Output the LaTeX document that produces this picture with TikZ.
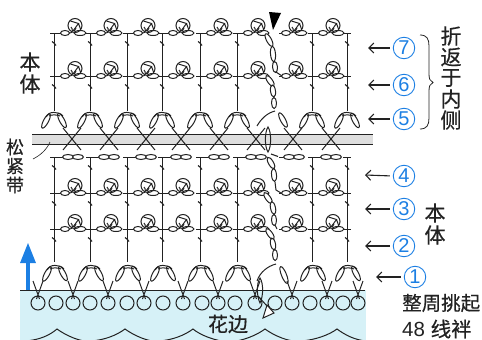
\documentclass[tikz,border=0pt]{standalone}
\usepackage{fontspec}
\usetikzlibrary{arrows.meta}
\setmainfont{Liberation Sans}
\newfontfamily\cjk[FakeBold=0.5]{Noto Sans CJK SC}
\definecolor{ink}{HTML}{222222}
\definecolor{numblue}{HTML}{1C7FE3}
\definecolor{pale}{HTML}{D6F1F7}
\newcommand{\ovl}[4]{\draw[knit,shift={(#1,#2)},rotate=#3] (0,0) ellipse (#4pt and 2.5pt);}
\newcommand{\ovf}[4]{\draw[knit,fill=white,shift={(#1,#2)},rotate=#3] (0,0) ellipse (#4pt and 2.5pt);}
\newcommand{\archtop}[2]{%
  \draw[knit] (#1-8,#2+6) .. controls (#1-6,#2) and (#1+5,#2) .. (#1+9,#2+5);
  \draw[knit] (#1-5,#2+5) .. controls (#1-3,#2+3.5) and (#1+3,#2+3.5) .. (#1+6,#2+5);
  \ovl{#1-8}{#2+10}{62}{8}
  \ovl{#1+8}{#2+9.5}{-62}{8}}
\newcommand{\postrow}[3]{%
  \draw[knit] (#1,#2) -- (#1,#3);
  \draw[knit] (#1-4,#2) -- (#1+4,#2);
  \draw[slash] (#1-2,#2+8.5) -- (#1,#2+10) (#1,#2+10) -- (#1+2,#2+12.5);}
\newcommand{\flower}[2]{%
  \draw[knit] (#1+4,#2) -- (#1+7,#2);
  \ovf{#1+11}{#2}{0}{4.5}
  \ovf{#1+26}{#2}{0}{6}
  \draw[knit] (#1+16,#2) .. controls (#1+19,#2) and (#1+19,#2-4) .. (#1+17,#2-6);
  \draw[knit] (#1+22,#2) .. controls (#1+20,#2-2) and (#1+20,#2-3) .. (#1+22,#2-5);
  \draw[knit] (#1+21,#2-7.5) circle (7pt);
  \draw[knit] (#1+16.5,#2-12) -- (#1+24.5,#2-9.5) -- (#1+19,#2-2) (#1+24.5,#2-9.5) -- (#1+26.5,#2-4);}
\newcommand{\plainchain}[2]{%
  \draw[knit] (#1+4,#2) -- (#1+9,#2);
  \ovf{#1+14}{#2}{0}{5.5}
  \ovf{#1+24}{#2}{0}{5.5}}
\tikzset{
  knit/.style={draw=ink,line width=1pt},
  slash/.style={draw=ink,line width=1.1pt},
  hanzi/.style={font=\cjk,text=ink,inner sep=0pt},
  numc/.style={circle,draw=numblue,line width=0.9pt,text=numblue,font=\fontsize{20}{20}\selectfont,inner sep=0pt,minimum size=21.5pt},
  barb/.style={draw=ink,line width=1.1pt,-{Straight Barb[length=5pt,width=10pt]},shorten <=3pt},
}
\begin{document}
\begin{tikzpicture}[x=1pt,y=-1pt]
\useasboundingbox (0,0) rectangle (482,340);
% pale edging
\fill[pale] (20,290) rectangle (366,340);
% scallops
\draw[knit,line width=1pt] (25,341) .. controls (40,340) and (50,335) .. (57,329)
  .. controls (65,335) and (82,343) .. (91,341) .. controls (105,340) and (117,335) .. (125,329)
  .. controls (133,335) and (150,343) .. (159,341) .. controls (173,340) and (185,335) .. (193,329)
  .. controls (200,335) and (215,341) .. (229,342) .. controls (243,341) and (257,335) .. (265,329)
  .. controls (273,335) and (290,343) .. (301,341) .. controls (315,340) and (329,335) .. (337,329)
  .. controls (345,335) and (355,340) .. (366,341);
% elastic band
\fill[black!13] (32,134) rectangle (373,144);
\draw[ink,line width=1pt] (32,134) -- (373,134) (32,144) -- (373,144);
% upper part
\foreach \p in {54,90,127,162,200,237,312,347}{
  \postrow{\p}{33}{76}
  \postrow{\p}{76}{111}
  \postrow{\p}{157}{193}
  \postrow{\p}{193}{229}
  \postrow{\p}{229}{262}
}
\foreach \p in {54,90,127,162,200,237,275,312}{
  \flower{\p}{33}
  \flower{\p}{76}
  \flower{\p}{193}
  \flower{\p}{229}
  \plainchain{\p}{157}
}
\foreach \p in {54,90,127,162,200,237,312,347}{\archtop{\p}{111}}
\foreach \p in {55,91,128,163,201,238,313,348}{\archtop{\p}{264}}
% crossings through the band
\foreach \c in {72,109,146,181,219,256,293,331}{
  \draw[knit] (\c-9,128) -- (\c+9,150) (\c+9,128) -- (\c-9,150);
}
% bottom foundation chain
\foreach \c in {38,56,73,90,108,127,144,163,183,202,218,235,255,275,292,310,327,343,358}{
  \draw[knit,line width=1pt] (\c,303) circle (7pt);
}
\draw[ink,line width=1pt] (20,290) -- (365,290);
\foreach \c in {38,73,108,144,183,218,255,292,327,358}{
  \draw[knit,line width=1pt] (\c-5,281) -- (\c+1.5,299) (\c+5,281) -- (\c-1.5,299);
}
% seam column
\fill[black] (269,12) -- (281,13) -- (273,30) -- cycle;
\ovf{269}{40}{-62}{7}
\ovf{273}{54}{-85}{7.5}
\ovf{275}{67}{-85}{5.5}
\draw[knit] (276,72) -- (282,76);
\ovf{270}{81}{-55}{6.5}
\ovf{273}{91}{-82}{6}
\ovf{274}{103}{-88}{5.5}
\draw[slash] (271,154) -- (278,156.5);
\ovf{271}{163}{-60}{6.5}
\ovf{274}{175}{-85}{6.5}
\draw[knit] (275,182) -- (276,190) -- (281,193);
\ovf{268}{198}{-55}{6.5}
\ovf{273}{208}{-78}{6.5}
\ovf{274}{220}{-88}{5.5}
\draw[knit] (275,225) -- (277,229);
\ovf{270}{234}{-55}{6.5}
\ovf{273}{244}{-78}{6}
\ovf{275}{255}{-88}{5.5}
% seam arches
\draw[knit] (275,111) .. controls (267,113) and (261,119) .. (257,126);
\ovl{283}{120}{-62}{8}
\draw[knit] (276,264) .. controls (268,266) and (260,272) .. (257,281);
\ovl{284}{275}{-68}{9}
\draw[knit] (268,127) .. controls (264.5,132) and (264.5,147) .. (268,152) .. controls (271.5,147) and (271.5,132) .. (268,127) -- cycle;
\draw[knit] (260,278) .. controls (256.5,283) and (256.5,296) .. (260,303) .. controls (263.5,296) and (263.5,283) .. (260,278) -- cycle;
\draw[knit] (258,296) -- (267,306);
\draw[knit,fill=white] (267,305) -- (274,313) -- (263,318) -- cycle;
% blue arrow
\fill[numblue] (26.3,290) rectangle (29.7,260);
\fill[numblue] (28,243) -- (36,263) -- (20,263) -- cycle;
% leader and brace
\draw[ink,line width=0.6pt] (33,159) .. controls (41,155) and (47,149) .. (50,142);
\draw[ink,line width=0.8pt] (420,35) .. controls (427,35) and (429,39) .. (429,46) -- (429,74)
  .. controls (429,79) and (430,81) .. (433,82.5) .. controls (430,84) and (429,86) .. (429,91)
  -- (429,118) .. controls (429,125) and (427,129) .. (420,129);
% numbered rows
\foreach \nm/\x/\y/\tx/\ty in {7/404/48/368/48,6/404/85/368/85,5/404/119/368/119,4/404/176/365/175,3/404/209/365/209,2/404/246/365/246,1/415/277/376/277}{
  \node[numc] (n\nm) at (\x,\y) {\nm};
  \coordinate (t\nm) at (\tx,\ty);
  \draw[barb] (n\nm.west) -- (t\nm);
}
% text
\foreach \s/\y [count=\i] in {折/36,返/57,于/78,内/99,侧/120}{
  \node[hanzi,font=\cjk\fontsize{21}{21}\selectfont] (fold\i) at (451,\y) {\s};
}
\node[hanzi,font=\cjk\fontsize{21}{21}\selectfont] (bl1) at (30,62) {本};
\node[hanzi,font=\cjk\fontsize{21}{21}\selectfont] (bl2) at (30,84) {体};
\node[hanzi,font=\cjk\fontsize{21}{21}\selectfont] (br1) at (435,213) {本};
\node[hanzi,font=\cjk\fontsize{21}{21}\selectfont] (br2) at (435,235) {体};
\node[hanzi,font=\cjk\fontsize{18}{18}\selectfont] (e1) at (15,147) {松};
\node[hanzi,font=\cjk\fontsize{18}{18}\selectfont] (e2) at (15,166) {紧};
\node[hanzi,font=\cjk\fontsize{18}{18}\selectfont] (e3) at (15,185) {带};
\node[hanzi,font=\cjk\fontsize{20}{20}\selectfont] (edge) at (228,324) {花边};
\node[hanzi,anchor=west,font=\cjk\fontsize{19.5}{19.5}\selectfont] (pick) at (402,303) {整周挑起};
\node[hanzi,anchor=west,font=\fontsize{20.5}{20.5}\selectfont] (count) at (402,329) {48 {\cjk 线袢}};
\end{tikzpicture}
\end{document}
